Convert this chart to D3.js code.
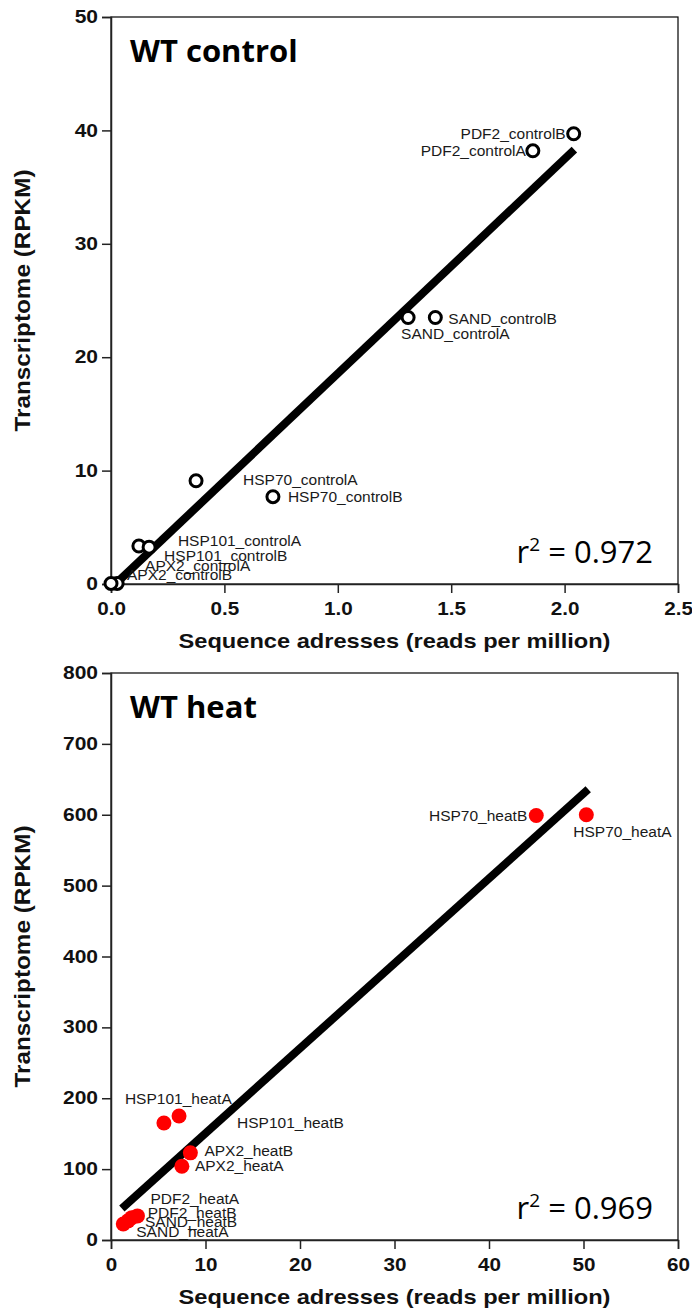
<!DOCTYPE html>
<html>
<head>
<meta charset="utf-8">
<title>WT control / WT heat</title>
<style>
body {margin: 0; background: #fff;}
.axis path, .axis line {stroke: #222; stroke-width: 1.5;}
.axis text {font-family: "Liberation Sans", Arial, sans-serif; font-weight: bold; font-size: 17.5px; fill: #111;}
.axis-title {font-family: "Liberation Sans", Arial, sans-serif; font-weight: bold; fill: #111;}
.pt-label {font-family: "Liberation Sans", Arial, sans-serif; font-size: 15.5px; fill: #1a1a1a;}
.panel-title {font-family: "Open Sans", sans-serif; font-weight: bold; font-size: 31px; fill: #000;}
.rsq {font-family: "Open Sans", sans-serif; font-size: 31px; fill: #000;}
</style>
</head>
<body>
<div id="chart"></div>
<script src="https://cdn.jsdelivr.net/npm/d3@7"></script>
<script>
// ---- data ----
var controlNames = ['PDF2_controlA', 'PDF2_controlB', 'SAND_controlA', 'SAND_controlB', 'HSP70_controlA',
	'HSP70_controlB', 'HSP101_controlA', 'HSP101_controlB', 'APX2_controlA', 'APX2_controlB'];
var controlX = [1.86, 2.04, 1.31, 1.43, 0.375, 0.714, 0.123, 0.168, 0.027, 0.0];
var controlY = [38.2, 39.7, 23.5, 23.5, 9.1, 7.7, 3.35, 3.25, 0.05, 0.05];
var controlFitX = [0.03, 2.043];
var controlFitY = [0.2, 38.3];
var controlXTicks = [0, 0.5, 1.0, 1.5, 2.0, 2.5];
var controlYTicks = [0, 10, 20, 30, 40, 50];

var heatNames = ['HSP70_heatA', 'HSP70_heatB', 'HSP101_heatA', 'HSP101_heatB', 'APX2_heatA',
	'APX2_heatB', 'PDF2_heatA', 'PDF2_heatB', 'SAND_heatA', 'SAND_heatB'];
var heatX = [50.3, 45.0, 5.6, 7.2, 7.5, 8.4, 2.8, 2.2, 1.3, 1.8];
var heatY = [600, 599, 165, 175, 104, 123, 34, 31.5, 22.5, 27];
var heatFitX = [1.15, 50.5];
var heatFitY = [44.5, 636];
var heatXTicks = [0, 10, 20, 30, 40, 50, 60];
var heatYTicks = [0, 100, 200, 300, 400, 500, 600, 700, 800];

var xTitle = 'Sequence adresses (reads per million)';
var yTitle = 'Transcriptome (RPKM)';

// ---- layout: label offsets from each point (dx, dy, anchor) ----
var controlLabelPos = [[-7, 0, 'end'], [-8, 0, 'end'], [-7, 16, 'start'], [13, 1, 'start'], [47, -1, 'start'],
	[15, 0, 'start'], [39, -5, 'start'], [15, 8, 'start'], [28, -18, 'start'], [16, -9, 'start']];
var heatLabelPos = [[-13, 17, 'start'], [-9, 0, 'end'], [-39, -24, 'start'], [58, 7, 'start'], [13, -1, 'start'],
	[14, -2, 'start'], [13, -17, 'start'], [16, -5, 'start'], [13, 8, 'start'], [17, 1, 'start']];

(function(d3) {
	var width = 692;
	var height = 1309;
	var left = 111, right = 678;

	var svg = d3.select('#chart')
		.append('svg')
		.attr('width', width)
		.attr('height', height);

	function stretch(sel, k) {
		sel.each(function() {
			var w = this.getComputedTextLength();
			d3.select(this).attr('textLength', w * k).attr('lengthAdjust', 'spacingAndGlyphs');
		});
	}

	function drawPanel(p) {
		var x = d3.scaleLinear().domain(p.xDomain).range([left, right]);
		var y = d3.scaleLinear().domain(p.yDomain).range([p.bottom, p.top]);
		var g = svg.append('g');

		// frame
		g.append('rect')
			.attr('x', left).attr('y', p.top)
			.attr('width', right - left).attr('height', p.bottom - p.top)
			.attr('fill', 'none').attr('stroke', '#000').attr('stroke-width', 1.2);

		var xa = g.append('g')
			.attr('class', 'axis')
			.attr('transform', 'translate(0,' + p.bottom + ')')
			.call(d3.axisBottom(x).tickValues(p.xTicks).tickFormat(p.xFmt)
				.tickSizeOuter(0).tickSize(9).tickPadding(10));
		stretch(xa.selectAll('text'), 1.18);

		var ya = g.append('g')
			.attr('class', 'axis')
			.attr('transform', 'translate(' + left + ',0)')
			.call(d3.axisLeft(y).tickValues(p.yTicks).tickFormat(d3.format('d'))
				.tickSizeOuter(0).tickSize(9).tickPadding(4));
		stretch(ya.selectAll('text'), 1.2);

		g.append('text')
			.attr('class', 'axis-title')
			.attr('x', (left + right) / 2)
			.attr('y', p.bottom + 64)
			.attr('text-anchor', 'middle')
			.style('font-size', '20.5px')
			.attr('textLength', 432)
			.attr('lengthAdjust', 'spacingAndGlyphs')
			.text(xTitle);

		g.append('text')
			.attr('class', 'axis-title')
			.attr('transform', 'translate(30,' + ((p.top + p.bottom) / 2) + ') rotate(-90)')
			.attr('text-anchor', 'middle')
			.style('font-size', '22px')
			.attr('textLength', 262)
			.attr('lengthAdjust', 'spacingAndGlyphs')
			.text(yTitle);

		// regression line
		var fit = p.fitX.map(function(v, i) { return [v, p.fitY[i]]; });
		g.append('path')
			.datum(fit)
			.attr('d', d3.line().x(function(d) { return x(d[0]); }).y(function(d) { return y(d[1]); }))
			.attr('stroke', '#000')
			.attr('stroke-width', 8)
			.attr('fill', 'none');

		var pts = p.names.map(function(n, i) {
			return {name: n, x: p.xs[i], y: p.ys[i], pos: p.labelPos[i]};
		});

		g.selectAll('circle.pt')
			.data(pts)
			.enter()
			.append('circle')
			.attr('class', 'pt')
			.attr('cx', function(d) { return x(d.x); })
			.attr('cy', function(d) { return y(d.y); })
			.attr('r', p.filled ? 7.5 : 6)
			.attr('fill', p.filled ? '#ff0000' : '#fff')
			.attr('stroke', p.filled ? 'none' : '#000')
			.attr('stroke-width', 3);

		g.selectAll('text.pt-label')
			.data(pts)
			.enter()
			.append('text')
			.attr('class', 'pt-label')
			.attr('x', function(d) { return x(d.x) + d.pos[0]; })
			.attr('y', function(d) { return y(d.y) + d.pos[1]; })
			.attr('dy', '0.35em')
			.attr('text-anchor', function(d) { return d.pos[2]; })
			.text(function(d) { return d.name; });

		g.append('text')
			.attr('class', 'panel-title')
			.attr('x', 130)
			.attr('y', p.top + 45)
			.text(p.title);

		var r = g.append('text')
			.attr('class', 'rsq')
			.attr('x', 653)
			.attr('y', p.bottom - 21)
			.attr('text-anchor', 'end');
		r.append('tspan').text('r');
		r.append('tspan').attr('dy', -12).style('font-size', '19px').text('2');
		r.append('tspan').attr('dy', 12).text(' = ' + p.rsq);
	}

	drawPanel({
		title: 'WT control', top: 17, bottom: 584,
		xDomain: [0, 2.5], yDomain: [0, 50],
		xTicks: controlXTicks, yTicks: controlYTicks, xFmt: d3.format('.1f'),
		names: controlNames, xs: controlX, ys: controlY, labelPos: controlLabelPos,
		fitX: controlFitX, fitY: controlFitY, rsq: '0.972', filled: false
	});

	drawPanel({
		title: 'WT heat', top: 673, bottom: 1240,
		xDomain: [0, 60], yDomain: [0, 800],
		xTicks: heatXTicks, yTicks: heatYTicks, xFmt: d3.format('d'),
		names: heatNames, xs: heatX, ys: heatY, labelPos: heatLabelPos,
		fitX: heatFitX, fitY: heatFitY, rsq: '0.969', filled: true
	});
})(window.d3);
</script>
</body>
</html>
